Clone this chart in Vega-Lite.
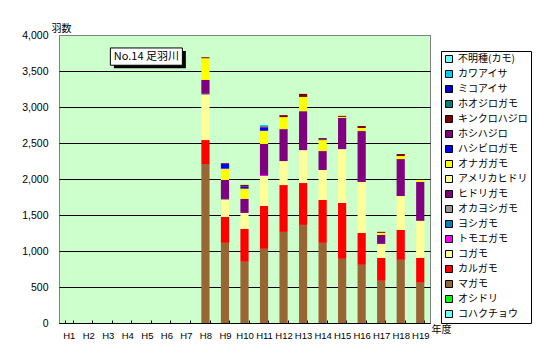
{
  "$schema": "https://vega.github.io/schema/vega-lite/v6.json",
  "autosize": "none",
  "width": 371,
  "height": 288,
  "padding": {"left": 59, "top": 35, "right": 115, "bottom": 37},
  "background": "white",
  "config": {
    "view": {"stroke": "#808080", "fill": "#CCFFCC"},
    "font": "Liberation Sans"
  },
  "encoding": {
    "x": {
      "field": "year", "type": "nominal",
      "scale": {"domain": ["H1","H2","H3","H4","H5","H6","H7","H8","H9","H10","H11","H12","H13","H14","H15","H16","H17","H18","H19"], "paddingInner": 0.58, "paddingOuter": 0.29},
      "axis": {
        "title": "年度", "titleFont": "Noto Sans CJK JP", "titleFontSize": 10, "titleFontWeight": "normal",
        "titleX": 382, "titleY": 9, "titleAlign": "center", "titleBaseline": "alphabetic",
        "labelAngle": 0, "labelFontSize": 9.5, "labelColor": "black", "labelPadding": 10, "labelOverlap": false,
        "domainColor": "black", "tickColor": "black", "tickBand": "extent", "tickSize": -3
      }
    },
    "y": {
      "field": "count", "type": "quantitative",
      "scale": {"domain": [0, 4000], "nice": false},
      "axis": {
        "title": "羽数", "titleFont": "Noto Sans CJK JP", "titleFontSize": 10, "titleFontWeight": "normal",
        "titleAngle": 0, "titleX": 2, "titleY": -4, "titleAlign": "center", "titleBaseline": "alphabetic",
        "values": [0,500,1000,1500,2000,2500,3000,3500,4000], "tickCount": 20, "format": ",.0f", "labelOverlap": false,
        "labelFontSize": 10.5, "labelColor": "black", "labelPadding": 11,
        "ticks": false, "domain": false,
        "gridColor": {"condition": {"test": "datum.value == 4000", "value": "#808080"}, "value": "black"},
        "gridOpacity": 1
      }
    }
  },
  "layer": [
    {
      "data": {"values": [
        {"year": "H8", "species": "マガモ", "count": 2208},
        {"year": "H8", "species": "カルガモ", "count": 333},
        {"year": "H8", "species": "コガモ", "count": 628},
        {"year": "H8", "species": "オカヨシガモ", "count": 14},
        {"year": "H8", "species": "ヒドリガモ", "count": 194},
        {"year": "H8", "species": "オナガガモ", "count": 300},
        {"year": "H8", "species": "キンクロハジロ", "count": 14},
        {"year": "H9", "species": "マガモ", "count": 1113},
        {"year": "H9", "species": "カルガモ", "count": 360},
        {"year": "H9", "species": "コガモ", "count": 236},
        {"year": "H9", "species": "オカヨシガモ", "count": 14},
        {"year": "H9", "species": "ヒドリガモ", "count": 263},
        {"year": "H9", "species": "オナガガモ", "count": 157},
        {"year": "H9", "species": "ハシビロガモ", "count": 69},
        {"year": "H9", "species": "キンクロハジロ", "count": 10},
        {"year": "H10", "species": "マガモ", "count": 850},
        {"year": "H10", "species": "カルガモ", "count": 457},
        {"year": "H10", "species": "コガモ", "count": 222},
        {"year": "H10", "species": "ヒドリガモ", "count": 194},
        {"year": "H10", "species": "オナガガモ", "count": 143},
        {"year": "H10", "species": "ハシビロガモ", "count": 28},
        {"year": "H10", "species": "キンクロハジロ", "count": 24},
        {"year": "H11", "species": "マガモ", "count": 1030},
        {"year": "H11", "species": "カルガモ", "count": 596},
        {"year": "H11", "species": "コガモ", "count": 416},
        {"year": "H11", "species": "トモエガモ", "count": 14},
        {"year": "H11", "species": "ヒドリガモ", "count": 430},
        {"year": "H11", "species": "オナガガモ", "count": 184},
        {"year": "H11", "species": "ハシビロガモ", "count": 47},
        {"year": "H11", "species": "キンクロハジロ", "count": 14},
        {"year": "H11", "species": "カワアイサ", "count": 18},
        {"year": "H12", "species": "マガモ", "count": 1265},
        {"year": "H12", "species": "カルガモ", "count": 651},
        {"year": "H12", "species": "コガモ", "count": 333},
        {"year": "H12", "species": "ヒドリガモ", "count": 444},
        {"year": "H12", "species": "オナガガモ", "count": 166},
        {"year": "H12", "species": "キンクロハジロ", "count": 28},
        {"year": "H13", "species": "マガモ", "count": 1362},
        {"year": "H13", "species": "カルガモ", "count": 582},
        {"year": "H13", "species": "コガモ", "count": 457},
        {"year": "H13", "species": "ヒドリガモ", "count": 541},
        {"year": "H13", "species": "オナガガモ", "count": 198},
        {"year": "H13", "species": "キンクロハジロ", "count": 42},
        {"year": "H14", "species": "マガモ", "count": 1113},
        {"year": "H14", "species": "カルガモ", "count": 596},
        {"year": "H14", "species": "コガモ", "count": 416},
        {"year": "H14", "species": "ヒドリガモ", "count": 263},
        {"year": "H14", "species": "オナガガモ", "count": 152},
        {"year": "H14", "species": "ハシビロガモ", "count": 10},
        {"year": "H14", "species": "キンクロハジロ", "count": 18},
        {"year": "H15", "species": "マガモ", "count": 891},
        {"year": "H15", "species": "カルガモ", "count": 776},
        {"year": "H15", "species": "コガモ", "count": 748},
        {"year": "H15", "species": "ヒドリガモ", "count": 434},
        {"year": "H15", "species": "オナガガモ", "count": 14},
        {"year": "H15", "species": "キンクロハジロ", "count": 14},
        {"year": "H16", "species": "マガモ", "count": 808},
        {"year": "H16", "species": "カルガモ", "count": 444},
        {"year": "H16", "species": "コガモ", "count": 707},
        {"year": "H16", "species": "ヒドリガモ", "count": 707},
        {"year": "H16", "species": "オナガガモ", "count": 42},
        {"year": "H16", "species": "キンクロハジロ", "count": 28},
        {"year": "H17", "species": "マガモ", "count": 586},
        {"year": "H17", "species": "カルガモ", "count": 319},
        {"year": "H17", "species": "コガモ", "count": 194},
        {"year": "H17", "species": "ヒドリガモ", "count": 125},
        {"year": "H17", "species": "オナガガモ", "count": 28},
        {"year": "H17", "species": "キンクロハジロ", "count": 14},
        {"year": "H18", "species": "マガモ", "count": 877},
        {"year": "H18", "species": "カルガモ", "count": 416},
        {"year": "H18", "species": "コガモ", "count": 471},
        {"year": "H18", "species": "ヒドリガモ", "count": 513},
        {"year": "H18", "species": "オナガガモ", "count": 42},
        {"year": "H18", "species": "キンクロハジロ", "count": 28},
        {"year": "H19", "species": "マガモ", "count": 559},
        {"year": "H19", "species": "カルガモ", "count": 347},
        {"year": "H19", "species": "コガモ", "count": 513},
        {"year": "H19", "species": "ヒドリガモ", "count": 541},
        {"year": "H19", "species": "オナガガモ", "count": 28}
      ]},
      "transform": [
        {"calculate": "indexof(['不明種(カモ)','カワアイサ','ミコアイサ','ホオジロガモ','キンクロハジロ','ホシハジロ','ハシビロガモ','オナガガモ','アメリカヒドリ','ヒドリガモ','オカヨシガモ','ヨシガモ','トモエガモ','コガモ','カルガモ','マガモ','オシドリ','コハクチョウ'], datum.species)", "as": "rank"}
      ],
      "mark": {"type": "bar"},
      "encoding": {
        "y": {"field": "count", "type": "quantitative", "stack": "zero"},
        "color": {
          "field": "species", "type": "nominal",
          "scale": {
            "domain": ["不明種(カモ)","カワアイサ","ミコアイサ","ホオジロガモ","キンクロハジロ","ホシハジロ","ハシビロガモ","オナガガモ","アメリカヒドリ","ヒドリガモ","オカヨシガモ","ヨシガモ","トモエガモ","コガモ","カルガモ","マガモ","オシドリ","コハクチョウ"],
            "range": ["#66FFFF","#00CCFF","#0000CC","#008080","#800000","#800080","#0000FF","#FFFF00","#FFFF99","#800080","#969696","#0080C0","#FF00FF","#FFFF99","#FF0000","#996633","#00FF00","#66FFFF"]
          },
          "legend": {
            "orient": "none", "legendX": 382, "legendY": 16,
            "title": null, "fillColor": "white", "strokeColor": "black", "padding": 3,
            "symbolType": "square", "symbolSize": 49, "symbolStrokeColor": "black", "symbolStrokeWidth": 1,
            "labelFont": "Noto Sans CJK JP", "labelFontSize": 10, "labelColor": "black", "labelOffset": 4,
            "rowPadding": 3, "symbolLimit": 50, "labelLimit": 200
          }
        },
        "order": {"field": "rank", "sort": "descending"}
      }
    },
    {
      "data": {"values": [{"year": "H5", "count": 3700, "label": "No.14 足羽川"}]},
      "mark": {"type": "point", "shape": "M-1,-0.24L1,-0.24L1,0.24L-1,0.24Z", "size": 5184, "filled": true, "fill": "black", "opacity": 1, "xOffset": 3, "yOffset": 3, "strokeWidth": 0}
    },
    {
      "data": {"values": [{"year": "H5", "count": 3700, "label": "No.14 足羽川"}]},
      "mark": {"type": "point", "shape": "M-1,-0.24L1,-0.24L1,0.24L-1,0.24Z", "size": 5184, "filled": true, "fill": "white", "stroke": "black", "strokeWidth": 1, "opacity": 1, "xOffset": -0.5}
    },
    {
      "data": {"values": [{"year": "H5", "count": 3700, "label": "No.14 足羽川"}]},
      "mark": {"type": "text", "font": "Noto Sans CJK JP", "fontSize": 11, "color": "black", "align": "center", "baseline": "middle", "xOffset": -0.5},
      "encoding": {"text": {"field": "label"}}
    }
  ]
}
